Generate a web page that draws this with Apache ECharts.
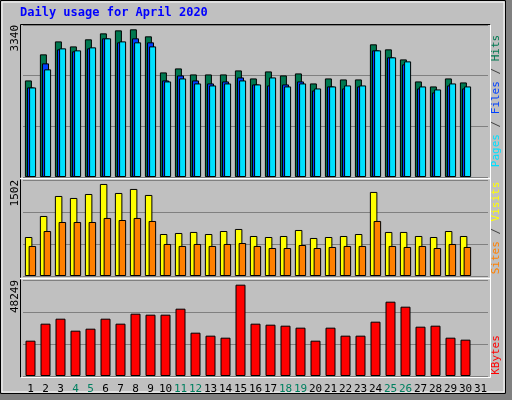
<!DOCTYPE html>
<html><head><meta charset="utf-8">
<script src="https://cdn.jsdelivr.net/npm/echarts@6/dist/echarts.min.js"></script>
<style>html,body{margin:0;padding:0;background:#C0C0C0}#c{width:512px;height:400px}</style>
</head><body><div id="c"></div>
<script>
const days = Array.from({length:31},(_, i)=>String(i+1));
const weekends = ['4','5','11','12','18','19','25','26'];
const hits  = [2122,2695,2980,2870,3025,3156,3222,3245,3091,2298,2386,2254,2254,2254,2342,2166,2320,2232,2276,2056,2166,2144,2144,2915,2805,2584,2100,1990,2166,2078];
const files = [1968,2497,2805,2761,2827,3047,2959,3047,2959,2122,2232,2122,2056,2100,2188,2034,2012,2034,2100,1902,1990,1946,1990,2783,2629,2475,1946,1858,2012,1946];
const pages = [1968,2365,2827,2783,2849,3047,2980,2959,2870,2100,2166,2056,2012,2056,2122,2034,2188,1990,2056,1946,1990,2012,2012,2783,2629,2541,1990,1924,2056,1990];
const visits= [610,939,1252,1221,1283,1440,1299,1362,1268,657,673,689,657,704,736,626,610,626,720,595,610,626,657,1315,689,689,626,610,704,626];
const sites = [470,704,845,845,845,908,876,908,861,501,470,501,470,501,516,470,438,438,485,438,454,470,470,861,470,454,470,438,501,454];
const kbytes= [17755,26300,28810,22780,23785,28810,26300,31320,30820,30820,33835,21775,20270,19260,45895,26300,25795,25290,24290,17755,24290,20270,20270,27300,37350,34840,24790,25290,19260,18260];
const maxHits = 3340, maxVisits = 1502, maxKB = 48249;

const C = {hits:'#007850', files:'#0040FF', pages:'#00E0FF', visits:'#FFFF00', sites:'#FF8000', kb:'#FF0000', wk:'#008060'};
const font = 'DejaVu Sans Mono';
const grids = [{left:23,width:465,top:25,height:152},{left:23,width:465,top:180,height:96},{left:23,width:465,top:280,height:96}];
function yax(gi,max){return {gridIndex:gi,min:0,max:max,interval:max/3,axisLine:{show:false},axisTick:{show:false},
  splitLine:{lineStyle:{color:'#808080',width:1}},
  axisLabel:{rotate:90,align:'right',verticalAlign:'middle',margin:8,fontFamily:font,fontSize:11,color:'#000',
    formatter:v=>Math.abs(v-max)<1e-6?String(max):''}};}
function xax(gi,show){return {type:'category',gridIndex:gi,data:days,boundaryGap:true,axisLine:{show:false},axisTick:{show:false},
  axisLabel:{show:show,interval:0,margin:8,fontFamily:font,fontSize:11,color:(v)=>weekends.includes(v)?C.wk:'#000'}};}
const bs = {borderColor:'#000',borderWidth:1};
const chart = echarts.init(document.getElementById('c'));
chart.setOption({
  backgroundColor:'#C0C0C0', animation:false,
  grid:grids,
  xAxis:[xax(0,false),xax(1,false),xax(2,true)],
  yAxis:[yax(0,maxHits),yax(1,maxVisits),yax(2,maxKB)],
  series:[
    {type:'bar',xAxisIndex:0,yAxisIndex:0,data:hits,barWidth:7,barGap:'-70%',itemStyle:{color:C.hits,...bs}},
    {type:'bar',xAxisIndex:0,yAxisIndex:0,data:files,barWidth:7,barGap:'-70%',itemStyle:{color:C.files,...bs}},
    {type:'bar',xAxisIndex:0,yAxisIndex:0,data:pages,barWidth:7,barGap:'-70%',itemStyle:{color:C.pages,...bs}},
    {type:'bar',xAxisIndex:1,yAxisIndex:1,data:visits,barWidth:7.5,barGap:'-50%',itemStyle:{color:C.visits,...bs}},
    {type:'bar',xAxisIndex:1,yAxisIndex:1,data:sites,barWidth:7.5,barGap:'-50%',itemStyle:{color:C.sites,...bs}},
    {type:'bar',xAxisIndex:2,yAxisIndex:2,data:kbytes,barWidth:10,itemStyle:{color:C.kb,...bs}}
  ],
  graphic:[
    {type:'rect',shape:{x:506,y:0,width:6,height:400},style:{fill:'#808080'},silent:true},
    {type:'rect',shape:{x:0,y:394,width:512,height:6},style:{fill:'#808080'},silent:true},
    {type:'rect',shape:{x:0.5,y:0.5,width:505,height:393},style:{fill:'none',stroke:'#000',lineWidth:1},silent:true},
    {type:'rect',shape:{x:2,y:2,width:502,height:390},style:{fill:'none',stroke:'#fff',lineWidth:1},silent:true},
    {type:'polyline',shape:{points:[[20.5,377.5],[20.5,24.5],[490.5,24.5]]},style:{stroke:'#000',lineWidth:1,fill:'none'},silent:true},
    {type:'polyline',shape:{points:[[20.5,377.5],[490.5,377.5],[490.5,24.5]]},style:{stroke:'#fff',lineWidth:1,fill:'none'},silent:true},
    {type:'line',shape:{x1:20,y1:178.5,x2:490,y2:178.5},style:{stroke:'#fff',lineWidth:1.5},silent:true},
    {type:'line',shape:{x1:20,y1:278.5,x2:490,y2:278.5},style:{stroke:'#fff',lineWidth:1.5},silent:true},
    {type:'text',x:20,y:7,style:{text:'Daily usage for April 2020',fill:'#0000FF',font:'bold 12px '+font}},
    {type:'text',x:496,y:101,rotation:Math.PI/2,style:{text:'{p|Pages} {s|/} {f|Files} {s|/} {h|Hits}',align:'center',verticalAlign:'middle',font:'11px '+font,
      rich:{p:{fill:C.pages,font:'11px '+font},f:{fill:C.files,font:'11px '+font},h:{fill:C.hits,font:'11px '+font},s:{fill:'#404040',font:'11px '+font}}}},
    {type:'text',x:496,y:228,rotation:Math.PI/2,style:{text:'{s|Sites} {k|/} {v|Visits}',align:'center',verticalAlign:'middle',font:'11px '+font,
      rich:{s:{fill:C.sites,font:'11px '+font},v:{fill:C.visits,font:'11px '+font},k:{fill:'#404040',font:'11px '+font}}}},
    {type:'text',x:496,y:355,rotation:Math.PI/2,style:{text:'KBytes',align:'center',verticalAlign:'middle',fill:C.kb,font:'11px '+font}}
  ]
});
</script></body></html>
